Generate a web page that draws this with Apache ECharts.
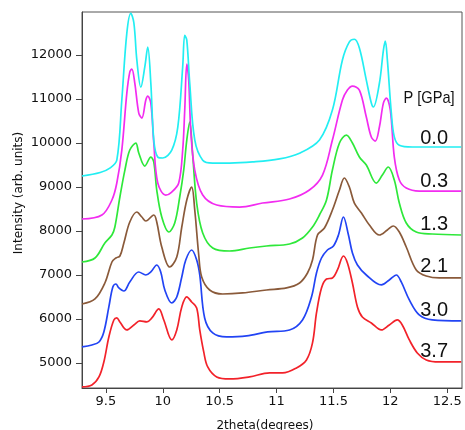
<!DOCTYPE html>
<html>
<head>
<meta charset="utf-8">
<script src="https://cdn.jsdelivr.net/npm/echarts@6/dist/echarts.min.js"></script>
<style>html,body{margin:0;padding:0;background:#fff}#c{width:465px;height:430px}</style>
</head>
<body>
<div id="c"></div>
<script>
// Values: [2theta (deg), intensity (arb. units)]
const p00 = [[9.29,9250],[9.45,9330],[9.535,9430],[9.596,9610],[9.64,10980],[9.684,12500],[9.719,12950],[9.746,12730],[9.772,11890],[9.807,11270],[9.842,11730],[9.868,12180],[9.895,11360],[9.921,10070],[9.956,9680],[10.0,9660],[10.079,9840],[10.132,10360],[10.175,11730],[10.193,12450],[10.211,12340],[10.237,11360],[10.281,10070],[10.351,9610],[10.439,9545],[10.588,9545],[10.789,9570],[11.026,9640],[11.202,9770],[11.377,10070],[11.491,10750],[11.579,11890],[11.64,12300],[11.684,12360],[11.728,12160],[11.789,11430],[11.833,10910],[11.851,10820],[11.904,11360],[11.939,12110],[11.956,12320],[11.974,11890],[12.009,10680],[12.035,10140],[12.079,9950],[12.193,9910],[12.623,9910]];
const p03 = [[9.29,8273],[9.465,8364],[9.553,8705],[9.596,9091],[9.64,9841],[9.684,11136],[9.71,11614],[9.728,11682],[9.754,11364],[9.789,10682],[9.816,10568],[9.851,10977],[9.868,11068],[9.895,10909],[9.921,10000],[9.956,9091],[10.026,8818],[10.079,8886],[10.14,9091],[10.175,9841],[10.193,10750],[10.211,11795],[10.228,11432],[10.246,10295],[10.281,9386],[10.351,8818],[10.474,8591],[10.675,8545],[10.877,8636],[11.114,8727],[11.289,8932],[11.404,9273],[11.491,10068],[11.579,10977],[11.623,11205],[11.667,11295],[11.728,11205],[11.789,10591],[11.833,10136],[11.868,10045],[11.904,10364],[11.939,10909],[11.965,11023],[12.0,10750],[12.035,9682],[12.079,9159],[12.14,8977],[12.254,8909],[12.623,8909]];
const p13 = [[9.29,7295],[9.404,7386],[9.491,7727],[9.553,7909],[9.579,8091],[9.623,8773],[9.667,9386],[9.71,9841],[9.763,10000],[9.789,9773],[9.842,9477],[9.895,9682],[9.921,9568],[9.947,8932],[9.991,8318],[10.053,7977],[10.105,8182],[10.149,8773],[10.184,9386],[10.211,10068],[10.237,10477],[10.263,9727],[10.298,8636],[10.351,7955],[10.439,7614],[10.588,7545],[10.763,7614],[10.912,7659],[11.114,7705],[11.228,7841],[11.316,8091],[11.377,8364],[11.439,8705],[11.491,9386],[11.553,10000],[11.614,10182],[11.667,10000],[11.728,9682],[11.789,9500],[11.877,9091],[11.93,9273],[11.982,9455],[12.035,9159],[12.079,8636],[12.14,8182],[12.228,7977],[12.368,7932],[12.623,7909]];
const p21 = [[9.29,6341],[9.404,6455],[9.491,6818],[9.553,7295],[9.588,7386],[9.623,7432],[9.658,7727],[9.71,8205],[9.772,8432],[9.816,8318],[9.851,8227],[9.921,8364],[9.947,8205],[9.991,7636],[10.061,7182],[10.123,7409],[10.167,8091],[10.211,8705],[10.254,9000],[10.281,8477],[10.316,7455],[10.342,6955],[10.412,6659],[10.526,6568],[10.702,6591],[10.912,6659],[11.088,6705],[11.202,6818],[11.272,7045],[11.316,7341],[11.36,7909],[11.421,8068],[11.491,8477],[11.553,8932],[11.596,9205],[11.64,9000],[11.684,8636],[11.746,8409],[11.816,8136],[11.904,7909],[11.974,8023],[12.026,8114],[12.079,7977],[12.14,7636],[12.228,7114],[12.316,6977],[12.43,6932],[12.623,6932]];
const p30 = [[9.29,5364],[9.377,5409],[9.439,5477],[9.482,5705],[9.526,6273],[9.561,6727],[9.588,6795],[9.614,6705],[9.658,6636],[9.71,6841],[9.789,7068],[9.851,7000],[9.895,7068],[9.947,7227],[9.982,7068],[10.018,6659],[10.079,6364],[10.123,6500],[10.167,6955],[10.202,7341],[10.254,7568],[10.298,7341],[10.325,7000],[10.368,6023],[10.439,5682],[10.561,5591],[10.737,5614],[10.921,5705],[11.114,5750],[11.228,5977],[11.307,6500],[11.351,7045],[11.395,7386],[11.447,7568],[11.5,7659],[11.544,7909],[11.588,8318],[11.632,7909],[11.667,7500],[11.711,7227],[11.789,7000],[11.921,6773],[11.991,6886],[12.053,7000],[12.096,6841],[12.167,6432],[12.254,6091],[12.368,5977],[12.623,5955]];
const p37 = [[9.29,4455],[9.377,4500],[9.439,4682],[9.482,5023],[9.526,5591],[9.57,5977],[9.596,6023],[9.623,5932],[9.684,5750],[9.746,5864],[9.798,5955],[9.86,5932],[9.904,6023],[9.965,6227],[10.009,5977],[10.079,5523],[10.123,5750],[10.167,6273],[10.211,6500],[10.254,6386],[10.298,6250],[10.325,5750],[10.36,5250],[10.395,4909],[10.474,4682],[10.588,4636],[10.763,4682],[10.939,4773],[11.053,4773],[11.175,4886],[11.263,5068],[11.316,5455],[11.351,6136],[11.395,6705],[11.439,6909],[11.491,6932],[11.535,7114],[11.588,7432],[11.623,7273],[11.667,6818],[11.711,6273],[11.754,6045],[11.833,5909],[11.921,5750],[11.991,5864],[12.061,5977],[12.105,5864],[12.167,5523],[12.237,5227],[12.316,5068],[12.43,5023],[12.623,5023]];

const pressures = ['0.0','0.3','1.3','2.1','3.0','3.7'];
const seriesData = [p00, p03, p13, p21, p30, p37];
const colors = ['#22eef2','#f22cf0','#2ee83a','#8a5a3a','#2244f4','#f2222a'];
const xTicks = [9.5, 10, 10.5, 11, 11.5, 12, 12.5];
const yTicks = [5000, 6000, 7000, 8000, 9000, 10000, 11000, 12000];
const labelY = [138, 181, 224, 266, 310, 351];

const chart = echarts.init(document.getElementById('c'), null, {renderer: 'canvas'});
const tickFont = {fontFamily: 'DejaVu Sans', fontSize: 13, color: '#111'};
chart.setOption({
  animation: false,
  backgroundColor: '#fff',
  grid: {left: 82, right: 3, top: 12, bottom: 42, containLabel: false, outerBoundsMode: 'none', show: true, borderColor: '#555', borderWidth: 1},
  xAxis: {
    type: 'value', min: 9.29, max: 12.63,
    name: '2theta(degrees)', nameLocation: 'middle', nameGap: 32,
    nameTextStyle: {fontFamily: 'DejaVu Sans', fontSize: 12, color: '#111', padding: [0, 14, 0, 0]},
    axisLine: {show: true, lineStyle: {color: '#444', width: 1}},
    axisTick: {show: true, length: 5, lineStyle: {color: '#444'}, customValues: xTicks},
    axisLabel: Object.assign({margin: 7, customValues: xTicks, formatter: v => String(v)}, tickFont),
    splitLine: {show: false}
  },
  yAxis: {
    type: 'value', min: 4430, max: 12980,
    name: 'Intensity (arb. units)', nameLocation: 'middle', nameGap: 57, nameMoveOverlap: false,
    nameTextStyle: {fontFamily: 'DejaVu Sans', fontSize: 12, color: '#111', padding: [0, 0, 0, 14]},
    axisLine: {show: true, lineStyle: {color: '#444', width: 1}},
    axisTick: {show: true, length: 6, lineStyle: {color: '#444'}, customValues: yTicks},
    axisLabel: Object.assign({margin: 10, customValues: yTicks, formatter: v => String(v)}, tickFont),
    splitLine: {show: false}
  },
  series: seriesData.map((d, i) => ({
    name: pressures[i], type: 'line', data: d, smooth: 0.35, showSymbol: false,
    lineStyle: {color: colors[i], width: 1.7}, z: 10 - i
  })),
  graphic: [
    {type: 'text', x: 429, y: 98, scaleX: 0.86, style: {text: 'P [GPa]', fontFamily: 'Liberation Sans', fontSize: 17, fill: '#111', align: 'center', verticalAlign: 'middle'}}
  ].concat(pressures.map((p, i) => ({
    type: 'text', x: 448, y: labelY[i],
    style: {text: p, fontFamily: 'Liberation Sans', fontSize: 20, fill: '#111', align: 'right', verticalAlign: 'middle'}
  })))
});
</script>
</body>
</html>
